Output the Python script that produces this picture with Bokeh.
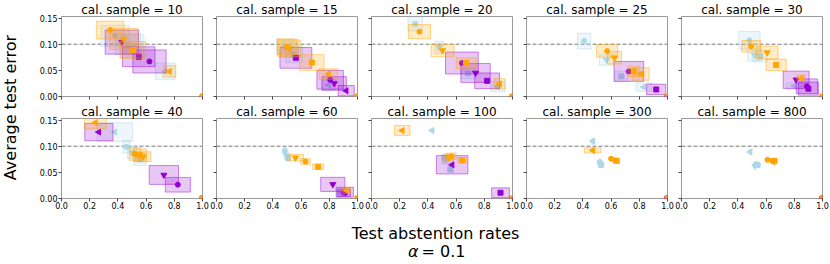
import numpy as np
from bokeh.plotting import figure
from bokeh.layouts import row, column
from bokeh.models import Range1d, FixedTicker, Label, Span, PrintfTickFormatter, Title
from bokeh.embed import file_html
from bokeh.resources import INLINE

# ---------------- data ----------------
CAL_SAMPLES = [10, 15, 20, 25, 30, 40, 60, 100, 300, 800]
X_TICKS = [0.0, 0.2, 0.4, 0.6, 0.8, 1.0]
Y_TICKS = [0.0, 0.05, 0.10, 0.15]
Y_MAX = 0.153
TARGET_ERROR = 0.1

# series order: lightblue (circle, inv-tri, square, left-tri), violet (same), orange (same), orange full-abstention
X_10  = [0.380, 0.470, 0.500, 0.735, 0.624, 0.428, 0.548, 1.000, 0.345, 0.442, 0.506, 0.766, 1.000]
Y_10  = [0.116, 0.100, 0.096, 0.048, 0.067, 0.104, 0.076, 0.000, 0.127, 0.110, 0.089, 0.048, 0.000]
DX_10 = [0.100, 0.090, 0.085, 0.070, 0.118, 0.118, 0.115, 0.000, 0.098, 0.100, 0.090, 0.045, 0.000]
DY_10 = [0.020, 0.020, 0.022, 0.016, 0.022, 0.023, 0.019, 0.000, 0.017, 0.020, 0.016, 0.011, 0.000]

X_15  = [0.487, 0.520, 0.550, 0.794, 0.806, 0.835, 0.563, 0.920, 0.500, 0.515, 0.676, 0.794, 1.000]
Y_15  = [0.095, 0.090, 0.080, 0.022, 0.032, 0.025, 0.074, 0.011, 0.095, 0.092, 0.065, 0.043, 0.000]
DX_15 = [0.060, 0.060, 0.060, 0.050, 0.094, 0.086, 0.113, 0.057, 0.070, 0.080, 0.087, 0.066, 0.000]
DY_15 = [0.015, 0.015, 0.015, 0.010, 0.018, 0.013, 0.020, 0.010, 0.015, 0.016, 0.015, 0.010, 0.000]

X_20  = [0.310, 0.480, 0.683, 0.896, 0.641, 0.738, 0.820, 1.000, 0.340, 0.504, 0.671, 0.908, 1.000]
Y_20  = [0.139, 0.094, 0.044, 0.019, 0.064, 0.045, 0.030, 0.000, 0.124, 0.088, 0.064, 0.024, 0.000]
DX_20 = [0.052, 0.030, 0.050, 0.050, 0.116, 0.104, 0.088, 0.000, 0.078, 0.082, 0.071, 0.040, 0.000]
DY_20 = [0.0135, 0.012, 0.010, 0.010, 0.021, 0.018, 0.015, 0.000, 0.0135, 0.012, 0.010, 0.010, 0.000]

X_25  = [0.409, 0.567, 0.672, 0.832, 0.726, 1.000, 0.920, 1.000, 0.572, 0.624, 0.760, 0.810, 1.000]
Y_25  = [0.106, 0.070, 0.0385, 0.018, 0.048, 0.000, 0.0135, 0.000, 0.087, 0.074, 0.048, 0.043, 0.000]
DX_25 = [0.047, 0.050, 0.047, 0.055, 0.105, 0.000, 0.068, 0.000, 0.075, 0.050, 0.040, 0.060, 0.000]
DY_25 = [0.015, 0.010, 0.010, 0.008, 0.019, 0.000, 0.010, 0.000, 0.012, 0.012, 0.010, 0.012, 0.000]

X_30  = [0.482, 0.518, 0.556, 0.800, 0.889, 0.813, 0.900, 1.000, 0.494, 0.608, 0.671, 0.849, 1.000]
Y_30  = [0.1075, 0.079, 0.077, 0.020, 0.0197, 0.032, 0.015, 0.000, 0.096, 0.084, 0.0605, 0.035, 0.000]
DX_30 = [0.075, 0.050, 0.050, 0.057, 0.075, 0.092, 0.071, 0.000, 0.067, 0.077, 0.072, 0.030, 0.000]
DY_30 = [0.017, 0.011, 0.011, 0.0063, 0.014, 0.0165, 0.0125, 0.000, 0.011, 0.0125, 0.011, 0.0063, 0.000]

X_40  = [0.461, 0.500, 0.556, 0.378, 0.825, 0.726, 1.000, 0.265, 0.520, 0.579, 0.556, 0.241, 1.000]
Y_40  = [0.099, 0.0876, 0.075, 0.127, 0.0263, 0.045, 0.000, 0.127, 0.085, 0.080, 0.0827, 0.145, 0.000]
DX_40 = [0.026, 0.032, 0.041, 0.125, 0.089, 0.104, 0.000, 0.100, 0.040, 0.056, 0.047, 0.077, 0.000]
DY_40 = [0.012, 0.011, 0.012, 0.018, 0.014, 0.018, 0.000, 0.0165, 0.012, 0.0094, 0.012, 0.012, 0.000]

X_60  = [0.485, 0.497, 0.507, 0.880, 1.000, 0.825, 0.910, 0.905, 0.631, 0.560, 0.721, 0.920, 1.000]
Y_60  = [0.091, 0.081, 0.078, 0.010, 0.000, 0.027, 0.012, 0.011, 0.0707, 0.078, 0.0607, 0.0156, 0.000]
DX_60 = [0.015, 0.015, 0.015, 0.030, 0.000, 0.086, 0.061, 0.045, 0.033, 0.057, 0.039, 0.030, 0.000]
DY_60 = [0.006, 0.006, 0.006, 0.006, 0.000, 0.0135, 0.0094, 0.007, 0.0056, 0.0063, 0.0053, 0.006, 0.000]

X_100  = [0.518, 0.525, 0.560, 0.430, 1.000, 1.000, 0.915, 0.572, 0.567, 0.550, 0.643, 0.218, 1.000]
Y_100  = [0.0764, 0.075, 0.056, 0.130, 0.000, 0.000, 0.011, 0.0645, 0.081, 0.078, 0.073, 0.130, 0.000]
DX_100 = [0.020, 0.020, 0.021, 0.010, 0.000, 0.000, 0.063, 0.112, 0.033, 0.030, 0.033, 0.055, 0.000]
DY_100 = [0.009, 0.009, 0.0063, 0.003, 0.000, 0.000, 0.0094, 0.0175, 0.006, 0.006, 0.0053, 0.0097, 0.000]

X_300  = [0.520, 0.520, 0.530, 0.470, 1.000, 1.000, 1.000, 1.000, 0.600, 0.620, 0.640, 0.470, 1.000]
Y_300  = [0.070, 0.066, 0.064, 0.1096, 0.000, 0.000, 0.000, 0.000, 0.076, 0.074, 0.072, 0.092, 0.000]
DX_300 = [0.010, 0.010, 0.010, 0.009, 0.000, 0.000, 0.000, 0.000, 0.012, 0.012, 0.012, 0.058, 0.000]
DY_300 = [0.004, 0.004, 0.004, 0.006, 0.000, 0.000, 0.000, 0.000, 0.003, 0.003, 0.003, 0.005, 0.000]

X_800  = [0.530, 0.520, 0.540, 0.487, 1.000, 1.000, 1.000, 1.000, 0.610, 0.640, 0.660, 0.650, 1.000]
Y_800  = [0.066, 0.062, 0.064, 0.089, 0.000, 0.000, 0.000, 0.000, 0.074, 0.073, 0.072, 0.070, 0.000]
DX_800 = [0.010, 0.010, 0.010, 0.008, 0.000, 0.000, 0.000, 0.000, 0.010, 0.010, 0.010, 0.010, 0.000]
DY_800 = [0.003, 0.003, 0.003, 0.005, 0.000, 0.000, 0.000, 0.000, 0.003, 0.003, 0.003, 0.003, 0.000]

PANELS = [
    (X_10, Y_10, DX_10, DY_10), (X_15, Y_15, DX_15, DY_15), (X_20, Y_20, DX_20, DY_20),
    (X_25, Y_25, DX_25, DY_25), (X_30, Y_30, DX_30, DY_30), (X_40, Y_40, DX_40, DY_40),
    (X_60, Y_60, DX_60, DY_60), (X_100, Y_100, DX_100, DY_100), (X_300, Y_300, DX_300, DY_300),
    (X_800, Y_800, DX_800, DY_800),
]

# ---------------- styles ----------------
LB, VI, OR = "#ADD8E6", "#9400D3", "#FFA500"
S_COLOR = [LB] * 4 + [VI] * 4 + [OR] * 4 + [OR]
S_MARKER = ["circle", "inverted_triangle", "square", "triangle"] * 3 + ["square"]
S_ANGLE = [0, 0, 0, np.pi / 2] * 3 + [0]
S_SIZE = [5, 6, 5, 6] * 3 + [5]
FONT = "DejaVu Sans"
FW, FH = 141, 80

top, bottom = [], []
for i, (cal, (xs, ys, dxs, dys)) in enumerate(zip(CAL_SAMPLES, PANELS)):
    r, c = divmod(i, 5)
    p = figure(frame_width=FW, frame_height=FH,
               x_range=Range1d(0, 1.0), y_range=Range1d(0, Y_MAX),
               min_border_left=41 if c == 0 else 7,
               min_border_right=7,
               min_border_top=0,
               min_border_bottom=15 if r == 1 else 6,
               output_backend="svg", toolbar_location=None)
    t = Title(text=f"cal. sample = {cal}", align="center", text_font=FONT,
              text_font_size="12px", text_font_style="normal", text_color="black",
              standoff=0)
    p.add_layout(t, "above")
    p.grid.visible = False
    p.outline_line_color = "#9a9a9a"
    p.outline_line_width = 1
    for ax in (p.xaxis[0], p.yaxis[0]):
        ax.axis_line_color = None
        ax.major_tick_line_color = "#444444"
        ax.major_tick_out = 3
        ax.major_tick_in = 0
        ax.minor_tick_line_color = None
        ax.major_label_text_font = FONT
        ax.major_label_text_font_size = "8px"
        ax.major_label_text_color = "black"
    p.xaxis.major_label_standoff = 0
    p.yaxis.major_label_standoff = 1
    p.xaxis.ticker = FixedTicker(ticks=X_TICKS)
    p.yaxis.ticker = FixedTicker(ticks=Y_TICKS)
    p.xaxis.formatter = PrintfTickFormatter(format="%.1f")
    p.yaxis.formatter = PrintfTickFormatter(format="%.2f")
    if r == 0:
        p.xaxis.major_label_text_color = None
    if c > 0:
        p.yaxis.major_label_text_color = None
    span = Span(location=TARGET_ERROR, dimension="width", line_color="#777777",
                line_dash="4 2", line_width=1)
    span.level = "underlay"
    p.add_layout(span)
    for k in range(len(xs)):
        col = S_COLOR[k]
        if dxs[k] > 0 or dys[k] > 0:
            p.quad(left=[xs[k] - dxs[k]], right=[xs[k] + dxs[k]],
                   bottom=[ys[k] - dys[k]], top=[ys[k] + dys[k]],
                   fill_color=col, fill_alpha=0.22, line_color=col, line_alpha=0.45, line_width=1)
        p.scatter([xs[k]], [ys[k]], marker=S_MARKER[k], size=S_SIZE[k], angle=S_ANGLE[k],
                  fill_color=col, line_color=col)
    (top if r == 0 else bottom).append(p)

grid = column(row(*top), row(*bottom))

ROWS_H = 213
ylab = figure(width=20, height=ROWS_H, x_range=Range1d(0, 20), y_range=Range1d(0, ROWS_H),
              min_border=0, output_backend="svg", toolbar_location=None)
ylab.axis.visible = False
ylab.grid.visible = False
ylab.outline_line_color = None
ylab.add_layout(Label(x=10, y=ROWS_H - 107, text="Average test error", angle=np.pi / 2,
                      text_align="center", text_baseline="middle", text_font=FONT,
                      text_font_size="16px", text_color="black"))

XL_W, XL_H = 829, 50
xlab = figure(width=XL_W, height=XL_H, x_range=Range1d(0, XL_W), y_range=Range1d(0, XL_H),
              min_border=0, output_backend="svg", toolbar_location=None)
xlab.axis.visible = False
xlab.grid.visible = False
xlab.outline_line_color = None
xlab.add_layout(Label(x=435, y=30, text="Test abstention rates", text_align="center",
                      text_baseline="middle", text_font=FONT, text_font_size="16px",
                      text_color="black"))
xlab.add_layout(Label(x=418, y=12, text="α", text_align="right",
                      text_baseline="middle", text_font=FONT, text_font_size="16px",
                      text_font_style="italic", text_color="black"))
xlab.add_layout(Label(x=421, y=12, text="= 0.1", text_align="left",
                      text_baseline="middle", text_font=FONT, text_font_size="16px",
                      text_color="black"))

layout = column(row(ylab, grid), xlab)
open("out.html", "w").write(file_html(layout, INLINE))
